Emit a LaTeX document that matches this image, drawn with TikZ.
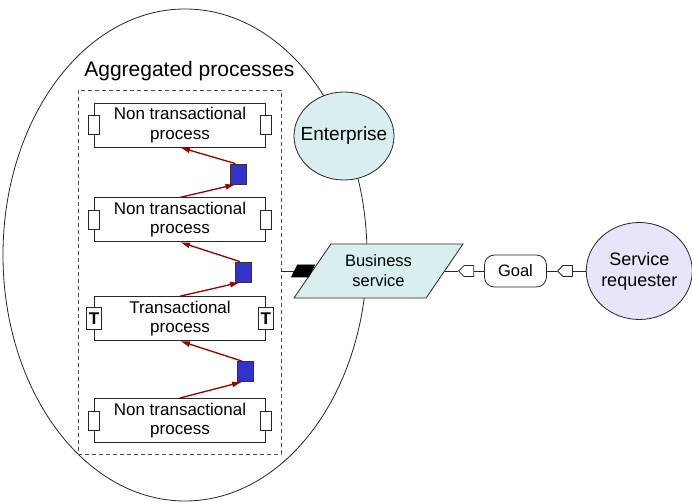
\documentclass[tikz,border=0pt]{standalone}
\usepackage{fontspec}
\setmainfont{Liberation Sans}
\usetikzlibrary{positioning,arrows.meta,calc,shapes.geometric,shapes.symbols}
\usepackage{xcolor}
\definecolor{entfill}{HTML}{D9EEEE}
\definecolor{reqfill}{HTML}{E6E6FA}
\definecolor{sqblue}{HTML}{3333CC}
\definecolor{arrred}{HTML}{990000}

\begin{document}
\begin{tikzpicture}[
  x=1pt, y=1pt,
  font=\fontsize{17}{19.5}\selectfont,
  line width=0.8pt,
  proc/.style={draw=black!85, fill=white, align=center, minimum width=171pt, minimum height=44pt, inner sep=0pt},
  tab/.style={draw=black!85, fill=white, minimum width=11pt, minimum height=19pt, inner sep=0pt},
  ttab/.style={draw=black!85, fill=white, minimum width=15pt, minimum height=22pt, inner sep=0pt, font=\fontsize{17}{17}\selectfont\bfseries},
  sq/.style={draw=black!80, fill=sqblue, minimum width=16pt, minimum height=20pt, inner sep=0pt},
  arr/.style={-{Latex[length=10pt,width=6pt]}, draw=arrred, fill=arrred, line width=1.3pt},
  pent/.style={shape=signal, signal to=west, draw=black!85, fill=white, minimum width=15pt, minimum height=11pt, inner sep=0pt},
  link/.style={draw=black!85}
]
\useasboundingbox (0,0) rectangle (692,503);

% outer border and aggregated block
\node[draw=black!85, ellipse, minimum width=364pt, minimum height=492pt, inner sep=0pt] (outer) at (185,248) {};
\node[draw=black!70, dashed, dash pattern=on 4pt off 3pt, minimum width=203pt, minimum height=364pt, inner sep=0pt] (agg) at (179.5,231) {};
\node[font=\fontsize{21}{25}\selectfont, anchor=base west] (aggl) at ($(agg.north west)+(3,13)$) {Aggregated processes};

% processes
\node[proc] (nt1) at (180,378) {Non transactional\\process};
\node[proc, below=50pt of nt1] (nt2) {Non transactional\\process};
\node[proc, below=54pt of nt2] (tr) {Transactional\\process};
\node[proc, below=57pt of tr] (nt3) {Non transactional\\process};
\node[tab] (nt1l) at (nt1.west) {};
\node[tab] (nt1r) at (nt1.east) {};
\node[tab] (nt2l) at (nt2.west) {};
\node[tab] (nt2r) at (nt2.east) {};
\node[ttab] (trl) at (tr.west) {T};
\node[ttab] (trr) at (tr.east) {T};
\node[tab] (nt3l) at (nt3.west) {};
\node[tab] (nt3r) at (nt3.east) {};

% links between processes
\node[sq] (q1) at (238.5,329) {};
\node[sq] (q2) at (243,231) {};
\node[sq] (q3) at (245,131.5) {};
\draw[arr] (nt2.north) -- ([xshift=-3pt]q1.south);
\draw[arr] ([xshift=-3pt]q1.north) -- (nt1.south);
\draw[arr] (tr.north) -- ([xshift=-3pt]q2.south);
\draw[arr] ([xshift=-3pt]q2.north) -- (nt2.south);
\draw[arr] (nt3.north) -- ([xshift=-3pt]q3.south);
\draw[arr] ([xshift=-3pt]q3.north) -- (tr.south);

% enterprise side
\node[ellipse, draw=black!85, fill=entfill, minimum width=100pt, minimum height=88pt, inner sep=-9pt, font=\fontsize{19}{22}\selectfont] (ent) at (344,367) {Enterprise};
\node[trapezium, trapezium stretches=true, trapezium left angle=52, trapezium right angle=128, draw=black!85, fill=entfill, minimum width=169pt, minimum height=54pt, inner sep=1pt, align=center, font=\fontsize{16.5}{20}\selectfont] (bsv) at (378.5,232) {Business\\service};
\node[draw=black, fill=black, minimum width=17pt, minimum height=12pt, inner sep=0pt, xslant=0.5, transform shape, left=0pt of bsv] (bsm) {};
\draw[link] (agg.east |- bsm.west) -- (bsm.west);

% requester side
\node[draw=black!85, rounded corners=10pt, minimum width=62pt, minimum height=32pt, inner sep=0pt, font=\fontsize{16.5}{20}\selectfont, right=39pt of bsv] (goal) {Goal};
\node[ellipse, draw=black!85, fill=reqfill, minimum width=106pt, minimum height=97pt, inner sep=-6pt, align=center, font=\fontsize{18}{21}\selectfont, right=39pt of goal] (req) {Service\\requester};
\node[pent, left=10pt of goal] (pg1) {};
\node[pent, right=10pt of goal] (pg2) {};
\draw[link] (bsv.east) -- (pg1.west);
\draw[link] (pg1.east) -- (goal.west);
\draw[link] (goal.east) -- (pg2.west);
\draw[link] (pg2.east) -- (req.west);
\end{tikzpicture}
\end{document}
